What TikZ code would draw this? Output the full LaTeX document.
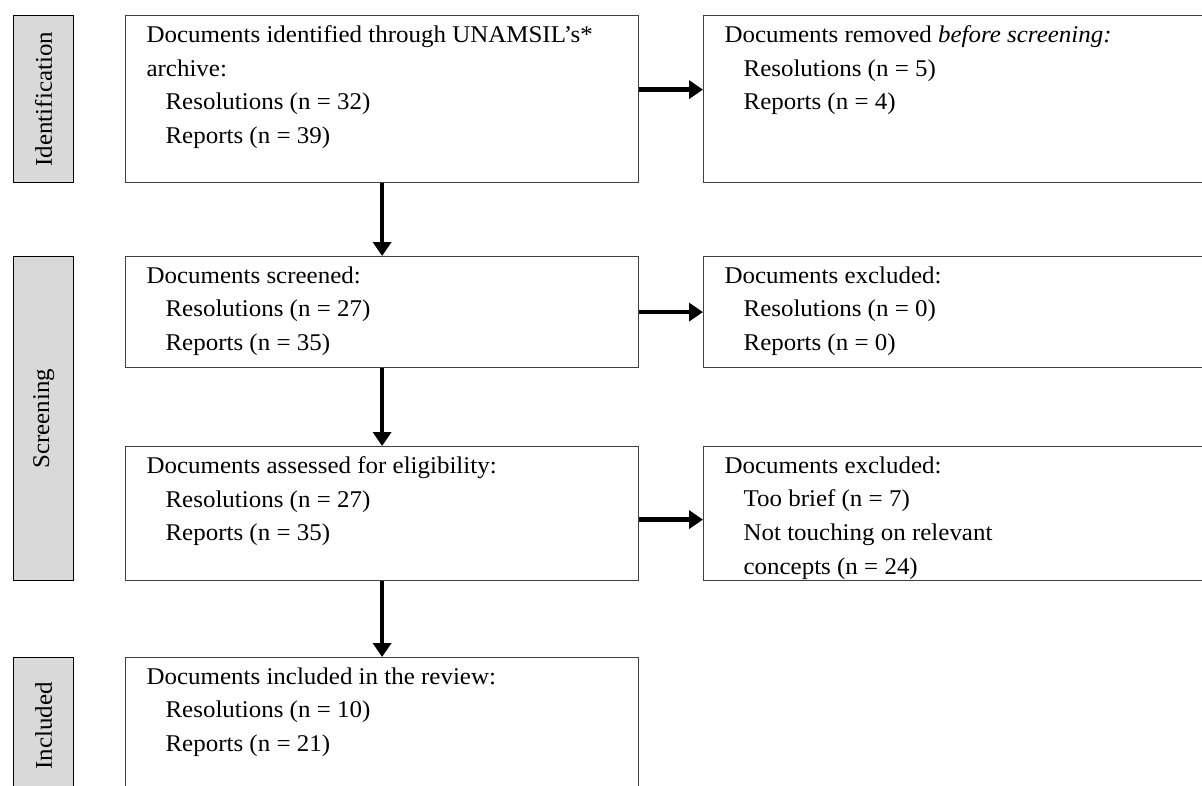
\documentclass[tikz,border=0pt]{standalone}
\usepackage{fontspec}
\setmainfont[FakeStretch=1.04]{Liberation Serif}
\usetikzlibrary{arrows.meta}

\definecolor{stagegray}{gray}{0.85}
\definecolor{boxline}{gray}{0.25}
\newcommand{\boxtext}[3]{\parbox[c][#2][t]{#1}{#3}}
\newcommand{\ind}{\hspace*{19pt}}

\tikzset{every node/.style={anchor=north west,font=\fontsize{24}{33.7}\selectfont},
  stage/.style={draw=black,fill=stagegray,line width=1.3pt,minimum width=60pt},
  flowbox/.style={draw=boxline,line width=1.2pt,inner xsep=21pt,inner ysep=10pt},
  arr/.style={line width=4.3pt,-{Triangle[length=14pt,width=18pt]}}}

\begin{document}
\begin{tikzpicture}[x=1pt,y=-1pt]
\useasboundingbox (0,0) rectangle (1202,785);
\clip (0,0) rectangle (1202,785);
% stages on the left
\path
(13,15) node[stage,minimum height=167pt](idlab){\rotatebox{90}{Identification}}
(13,256) node[stage,minimum height=324pt](scrlab){\rotatebox{90}{Screening}}
(13,657) node[stage,minimum height=136pt](inclab){\rotatebox{90}{Included}};
% main column
\path
(125,15) node[flowbox](id){\boxtext{471pt}{147pt}{Documents identified through UNAMSIL’s*\\
archive:\\ \ind Resolutions (n = 32)\\ \ind Reports (n = 39)}}
(125,256) node[flowbox](scr){\boxtext{471pt}{91pt}{Documents screened:\\
\ind Resolutions (n = 27)\\ \ind Reports (n = 35)}}
(125,446) node[flowbox](elig){\boxtext{471pt}{114pt}{Documents assessed for eligibility:\\
\ind Resolutions (n = 27)\\ \ind Reports (n = 35)}}
(125,657) node[flowbox](inc){\boxtext{471pt}{146pt}{Documents included in the review:\\
\ind Resolutions (n = 10)\\ \ind Reports (n = 21)}};
% side column
\path
(703,15) node[flowbox](rem){\boxtext{485pt}{147pt}{Documents removed \textit{before screening:}\\
\ind Resolutions (n = 5)\\ \ind Reports (n = 4)}}
(703,256) node[flowbox](exc){\boxtext{485pt}{91pt}{Documents excluded:\\
\ind Resolutions (n = 0)\\ \ind Reports (n = 0)}}
(703,446) node[flowbox](excb){\boxtext{485pt}{114pt}{Documents excluded:\\
\ind Too brief (n = 7)\\ \ind Not touching on relevant\\ \ind concepts (n = 24)}};
% arrows
\path[draw,arr] ([yshift=9.5pt]id.east) -- ([yshift=9.5pt]rem.west);
\path[draw,arr] (scr.east) -- (exc.west);
\path[draw,arr] ([yshift=-6pt]elig.east) -- ([yshift=-6pt]excb.west);
\path[draw,arr] (id.south) -- (scr.north);
\path[draw,arr] (scr.south) -- (elig.north);
\path[draw,arr] (elig.south) -- (inc.north);
\end{tikzpicture}
\end{document}
